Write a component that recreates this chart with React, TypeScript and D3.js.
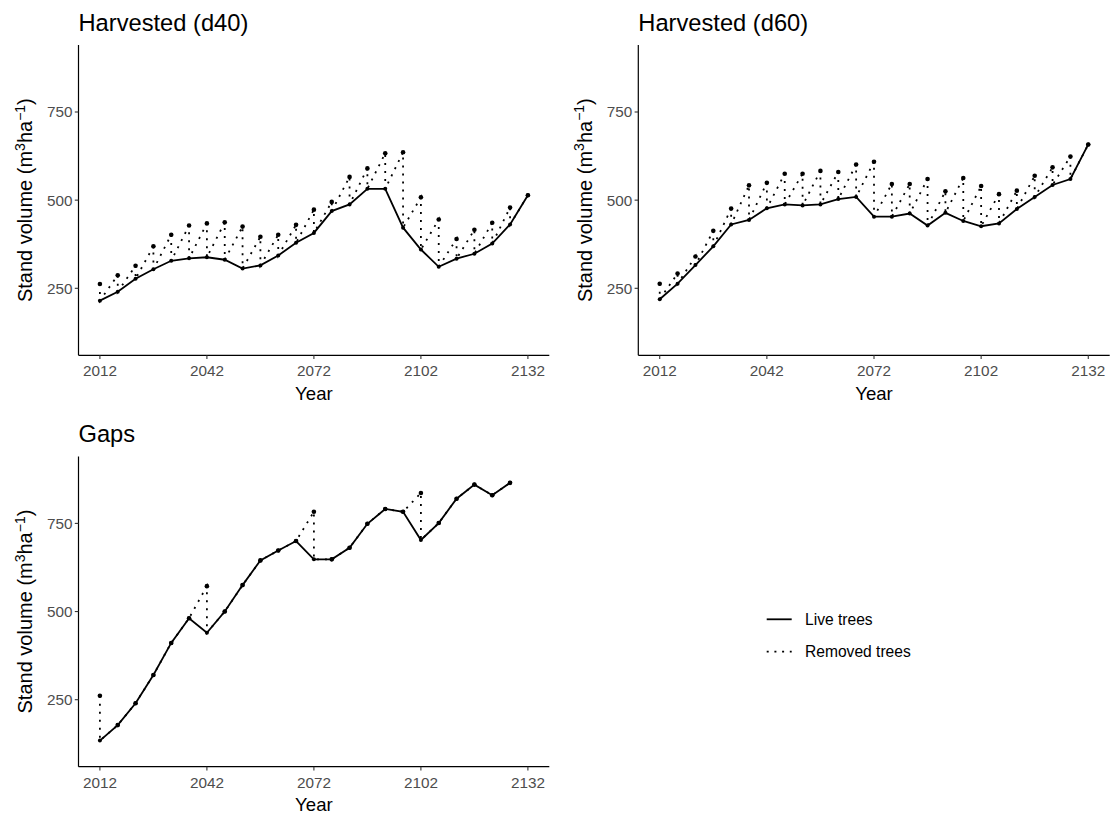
import React from 'react';
import * as d3 from 'd3';

const years = [2012, 2017, 2022, 2027, 2032, 2037, 2042, 2047, 2052, 2057, 2062, 2067, 2072, 2077, 2082, 2087, 2092, 2097, 2102, 2107, 2112, 2117, 2122, 2127, 2132];
const gapsYears = [2012, 2017, 2022, 2027, 2032, 2037, 2042, 2047, 2052, 2057, 2062, 2067, 2072, 2077, 2082, 2087, 2092, 2097, 2102, 2107, 2112, 2117, 2122, 2127];

const d40Live = [215, 240, 277, 304, 328, 335, 338, 331, 306, 315, 343, 379, 407, 469, 488, 532, 532, 422, 360, 311, 334, 348, 377, 431, 514];
const d40Removed = [262, 287, 314, 369, 402, 428, 434, 437, 425, 396, 402, 430, 473, 495, 566, 590, 633, 636, 508, 445, 390, 416, 436, 479, 514];

const d60Live = [219, 263, 316, 369, 431, 444, 477, 488, 485, 488, 503, 509, 453, 453, 462, 428, 464, 441, 426, 434, 475, 509, 543, 560, 658];
const d60Removed = [263, 292, 340, 413, 476, 542, 549, 575, 575, 583, 580, 601, 609, 546, 546, 560, 525, 563, 540, 517, 527, 569, 593, 624, 658];

const gapsLive = [134, 178, 240, 320, 411, 481, 440, 500, 575, 645, 673, 700, 648, 648, 681, 749, 791, 783, 703, 751, 820, 860, 830, 865];
const gapsRemoved = [261, 178, 240, 320, 411, 481, 572, 500, 575, 645, 673, 700, 783, 648, 681, 749, 791, 783, 836, 751, 820, 860, 830, 865];

const xTicks = [2012, 2042, 2072, 2102, 2132];
const yTicks = [250, 500, 750];
const xDomain: [number, number] = [2006, 2138];
const yDomain: [number, number] = [60, 940];

const FONT = '"Liberation Sans", Arial, Helvetica, sans-serif';
const GREY = '#4D4D4D';

type PanelProps = {
  left: number; right: number; top: number; bottom: number;
  title: string; yrs: number[]; live: number[]; removed: number[];
};

function Panel({ left, right, top, bottom, title, yrs, live, removed }: PanelProps) {
  const x = d3.scaleLinear().domain(xDomain).range([left, right]);
  const y = d3.scaleLinear().domain(yDomain).range([bottom, top]);
  const line = d3.line<[number, number]>().x(d => x(d[0])).y(d => y(d[1]));
  const livePts: [number, number][] = yrs.map((yr, i) => [yr, live[i]]);
  const sawPts: [number, number][] = [];
  yrs.forEach((yr, i) => {
    sawPts.push([yr, removed[i]]);
    sawPts.push([yr, live[i]]);
  });
  const midX = (left + right) / 2;
  const midY = (top + bottom) / 2;
  return (
    <g>
      <text x={left} y={top - 14} fontSize={23.7} fontFamily={FONT} fill="#000">{title}</text>
      <line x1={left} x2={left} y1={top} y2={bottom} stroke="#000" strokeWidth={1.2} />
      <line x1={left} x2={right} y1={bottom} y2={bottom} stroke="#000" strokeWidth={1.2} />
      {xTicks.map(t => (
        <g key={'x' + t}>
          <line x1={x(t)} x2={x(t)} y1={bottom} y2={bottom + 3.7} stroke="#333" strokeWidth={1.1} />
          <text x={x(t)} y={bottom + 21} fontSize={15.3} fontFamily={FONT} fill={GREY} textAnchor="middle">{t}</text>
        </g>
      ))}
      {yTicks.map(t => (
        <g key={'y' + t}>
          <line x1={left - 3.7} x2={left} y1={y(t)} y2={y(t)} stroke="#333" strokeWidth={1.1} />
          <text x={left - 6} y={y(t) + 5.4} fontSize={15.3} fontFamily={FONT} fill={GREY} textAnchor="end">{t}</text>
        </g>
      ))}
      <text x={midX} y={bottom + 44.5} fontSize={18.6} fontFamily={FONT} fill="#000" textAnchor="middle">Year</text>
      <text transform={`translate(${left - 46.5},${midY}) rotate(-90)`} fontSize={20} fontFamily={FONT} fill="#000" textAnchor="middle">
        Stand volume (m<tspan dy={-7.5} fontSize={14}>3</tspan><tspan dy={7.5}>ha</tspan><tspan dy={-7.5} fontSize={14}>−1</tspan><tspan dy={7.5}>)</tspan>
      </text>
      <path d={line(sawPts) || ''} fill="none" stroke="#000" strokeWidth={1.8} strokeDasharray="2 6" />
      <path d={line(livePts) || ''} fill="none" stroke="#000" strokeWidth={1.8} />
      {yrs.map((yr, i) => (
        <circle key={'r' + yr} cx={x(yr)} cy={y(removed[i])} r={2.3} fill="#000" />
      ))}
      {yrs.map((yr, i) => (
        <circle key={'l' + yr} cx={x(yr)} cy={y(live[i])} r={2} fill="#000" />
      ))}
    </g>
  );
}

export default function App() {
  return (
    <svg width={1113} height={814} style={{ position: 'absolute', left: 0, top: 0, background: '#fff' }}>
      <rect x={0} y={0} width={1113} height={814} fill="#fff" />
      <Panel left={78.5} right={549.3} top={45} bottom={355.3} title="Harvested (d40)" yrs={years} live={d40Live} removed={d40Removed} />
      <Panel left={638.3} right={1109.7} top={45} bottom={355.3} title="Harvested (d60)" yrs={years} live={d60Live} removed={d60Removed} />
      <Panel left={78.5} right={549.3} top={456.4} bottom={766.7} title="Gaps" yrs={gapsYears} live={gapsLive} removed={gapsRemoved} />
      <g>
        <line x1={766.7} x2={791.7} y1={619.3} y2={619.3} stroke="#000" strokeWidth={1.8} />
        <text x={805} y={624.8} fontSize={15.6} fontFamily={FONT} fill="#000">Live trees</text>
        <line x1={766.7} x2={791.7} y1={651.7} y2={651.7} stroke="#000" strokeWidth={1.8} strokeDasharray="2 5.7" />
        <text x={805} y={657.2} fontSize={15.6} fontFamily={FONT} fill="#000">Removed trees</text>
      </g>
    </svg>
  );
}
